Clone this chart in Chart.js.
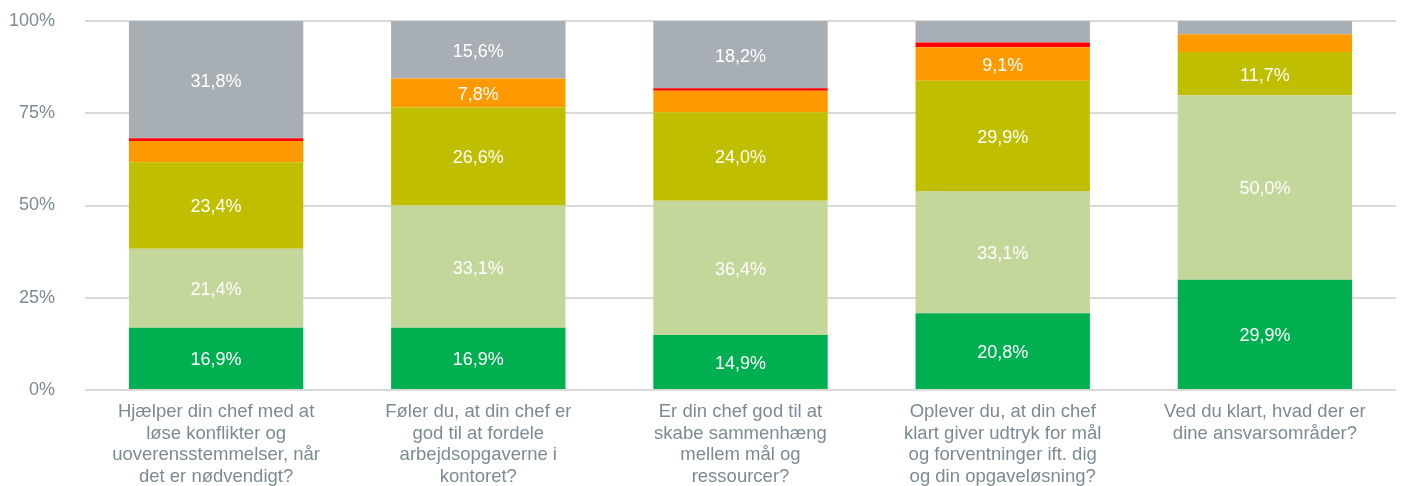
<!DOCTYPE html>
<html>
<head>
<meta charset="utf-8">
<script src="https://cdn.jsdelivr.net/npm/chart.js@4"></script>
<style>
    html, body { margin: 0; padding: 0; background: #fff; }
    #wrap { width: 1404px; height: 486px; }
</style>
</head>
<body>
<div id="wrap"><canvas id="chart"></canvas></div>
<script>
// Categories (wrapped as in the reference)
var categories = [
    ['Hjælper din chef med at', 'løse konflikter og', 'uoverensstemmelser, når', 'det er nødvendigt?'],
    ['Føler du, at din chef er', 'god til at fordele', 'arbejdsopgaverne i', 'kontoret?'],
    ['Er din chef god til at', 'skabe sammenhæng', 'mellem mål og', 'ressourcer?'],
    ['Oplever du, at din chef', 'klart giver udtryk for mål', 'og forventninger ift. dig', 'og din opgaveløsning?'],
    ['Ved du klart, hvad der er', 'dine ansvarsområder?']
];

// Series values (percent)
var darkGreen  = [16.9, 16.9, 14.9, 20.8, 29.9];
var lightGreen = [21.4, 33.1, 36.4, 33.1, 50.0];
var olive      = [23.4, 26.6, 24.0, 29.9, 11.7];
var orange     = [5.8, 7.8, 5.8, 9.1, 4.8];
var red        = [0.7, 0.0, 0.7, 1.3, 0.0];
var grey       = [31.8, 15.6, 18.2, 5.8, 3.6];

var yTicks = [0, 25, 50, 75, 100];

var FONT = "'Liberation Sans', Arial, sans-serif";
var TEXT_COLOR = '#7b8a93';

function fmt(v) {
    return v.toFixed(1).replace('.', ',') + '%';
}

// simple inline value labels (no datalabels plugin available)
var segmentLabels = {
    id: 'segmentLabels',
    afterDatasetsDraw: function(chart) {
        var ctx = chart.ctx;
        ctx.save();
        ctx.font = '18px ' + FONT;
        ctx.fillStyle = '#ffffff';
        ctx.textAlign = 'center';
        ctx.textBaseline = 'middle';
        chart.data.datasets.forEach(function(ds, i) {
            var meta = chart.getDatasetMeta(i);
            meta.data.forEach(function(bar, j) {
                var v = ds.data[j];
                if (v < 7) return;
                var mid = (bar.y + bar.base) / 2 + 2;
                ctx.fillText(fmt(v), bar.x, mid);
            });
        });
        ctx.restore();
    }
};

var ctx = document.getElementById('chart');
new Chart(ctx, {
    type: 'bar',
    data: {
        labels: categories,
        datasets: [
            { label: 'Helt enig', data: darkGreen, backgroundColor: '#00b050' },
            { label: 'Enig', data: lightGreen, backgroundColor: '#c4d79b' },
            { label: 'Delvis', data: olive, backgroundColor: '#bfbf00' },
            { label: 'Uenig', data: orange, backgroundColor: '#ff9900' },
            { label: 'Helt uenig', data: red, backgroundColor: '#ff0000' },
            { label: 'Ved ikke', data: grey, backgroundColor: '#a7afb5' }
        ]
    },
    options: {
        responsive: true,
        maintainAspectRatio: false,
        animation: false,
        layout: { padding: { left: 8, right: 8, top: 21, bottom: 0 } },
        datasets: {
            bar: { categoryPercentage: 1.0, barPercentage: 0.665, borderWidth: 0 }
        },
        plugins: {
            legend: { display: false },
            tooltip: { enabled: false }
        },
        scales: {
            x: {
                stacked: true,
                grid: { display: false },
                border: { display: false },
                afterFit: function(axis) { axis.height = 96; },
                ticks: {
                    color: TEXT_COLOR,
                    font: { family: FONT, size: 18.5, lineHeight: 1.17 },
                    maxRotation: 0,
                    autoSkip: false,
                    padding: 3
                }
            },
            y: {
                stacked: true,
                min: 0,
                max: 100,
                afterBuildTicks: function(axis) {
                    axis.ticks = yTicks.map(function(v) { return { value: v }; });
                },
                afterFit: function(axis) {
                    axis.width = 77;
                    axis.paddingTop = 0;
                    axis.paddingBottom = 0;
                },
                grid: { color: '#d9d9d9', lineWidth: 2, drawTicks: false },
                border: { display: false },
                ticks: {
                    color: TEXT_COLOR,
                    font: { family: FONT, size: 18 },
                    padding: 30,
                    callback: function(v) { return v + '%'; }
                }
            }
        }
    },
    plugins: [segmentLabels]
});
</script>
</body>
</html>
